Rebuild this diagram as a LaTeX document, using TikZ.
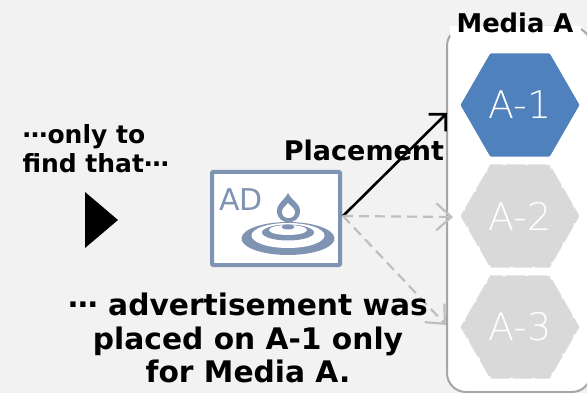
\documentclass[tikz,border=0pt]{standalone}
\usepackage{xcolor}
\usepackage{fontspec}
\setmainfont{DejaVu Sans}
\newfontfamily\thinfont{DejaVu Sans ExtraLight}
\usetikzlibrary{arrows.meta,positioning,shapes.geometric}
\definecolor{paleback}{HTML}{F2F2F2}
\definecolor{adblue}{HTML}{7F93B2}
\definecolor{hexblue}{HTML}{4F81BD}
\definecolor{hexgrey}{HTML}{D9D9D9}
\definecolor{dashgrey}{HTML}{BFBFBF}
\newcommand{\middots}{\raisebox{.27em}{…}}
\tikzset{
  x=1pt,y=-1pt,
  hexbase/.style={regular polygon,regular polygon sides=6,minimum size=119pt,inner sep=0pt,text=white,font=\thinfont\fontsize{38}{38}\selectfont},
  hexon/.style={hexbase,fill=hexblue,rounded corners=1pt},
  hexoff/.style={hexbase,fill=hexgrey,draw=white,line width=1.5pt,dash pattern=on 3pt off 19pt},
  saytext/.style={align=center,text=black},
  barb/.style={-{Straight Barb[length=12pt,width=24pt]}},
  greybarb/.style={-{Straight Barb[length=15pt,width=27pt]},dashgrey,dash pattern=on 10pt off 6pt,line width=2.2pt},
}
\begin{document}
\begin{tikzpicture}
\useasboundingbox (0,0) rectangle (587,393);
\fill [paleback] (0,0) rectangle (587,393);
% media panel
\node (panel) [draw=gray!70,fill=white,line width=2pt,rounded corners=19pt,minimum width=144pt,minimum height=365pt] at (519,209.5) {};
\fill [white] (450,26) rectangle (581,36);
\node (mediaA) [saytext,font=\bfseries\fontsize{25.8}{28}\selectfont] at (515,23) {Media A};
\node (a1) [hexon] at (520,105) {A-1};
\node (a2) [hexoff] at (520,216) {A-2};
\node (a3) [hexoff] at (520,327) {A-3};
% ad picture
\node (adbox) [draw=adblue,fill=white,line width=4pt,rounded corners=1pt,minimum width=128pt,minimum height=93pt] at (276,218.5) {};
\node (adtext) [text=adblue,font=\fontsize{30}{30}\selectfont] at (241,200) {AD};
\fill [adblue] (288,193) .. controls (292,201) and (300,203) .. (300,211) .. controls (300,226) and (277,226) .. (277,211) .. controls (277,203) and (284,201) .. (288,193);
\fill [white] (288,203) .. controls (290,206) and (295,208) .. (295,212) .. controls (295,220) and (282,220) .. (282,212) .. controls (282,208) and (286,206) .. (288,203);
\fill [adblue] (288,238.5) ellipse (46.5 and 16.5);
\fill [white] (288,235.5) ellipse (36.5 and 12.5);
\fill [adblue] (288,232.5) ellipse (26 and 8);
\fill [white] (288,230) ellipse (19 and 5);
\fill [adblue] (288,227) ellipse (6.5 and 2.5);
% placements
\coordinate (adright) at (343,216);
\coordinate (tipa) at (447,113);
\coordinate (tipb) at (453,217);
\coordinate (tipc) at (446,325);
\draw [barb,line width=2.6pt] (adright) -- (tipa);
\draw [greybarb] (adright) -- (tipb);
\draw [greybarb] (adright) -- (tipc);
\node (placement) [saytext,font=\bfseries\fontsize{27}{29}\selectfont] at (364,150) {Placement};
% text on the left
\node (onlyto) [saytext,align=left,anchor=west,font=\bfseries\fontsize{25}{29}\selectfont] at (19,149) {\middots only to\\find that\middots};
\fill [black] (85,192) -- (118,220) -- (85,248) -- cycle;
\node (result) [saytext,font=\bfseries\fontsize{29.7}{33.5}\selectfont] at (248,338) {\middots{} advertisement was\\placed on A-1 only\\for Media A.};
\end{tikzpicture}
\end{document}
